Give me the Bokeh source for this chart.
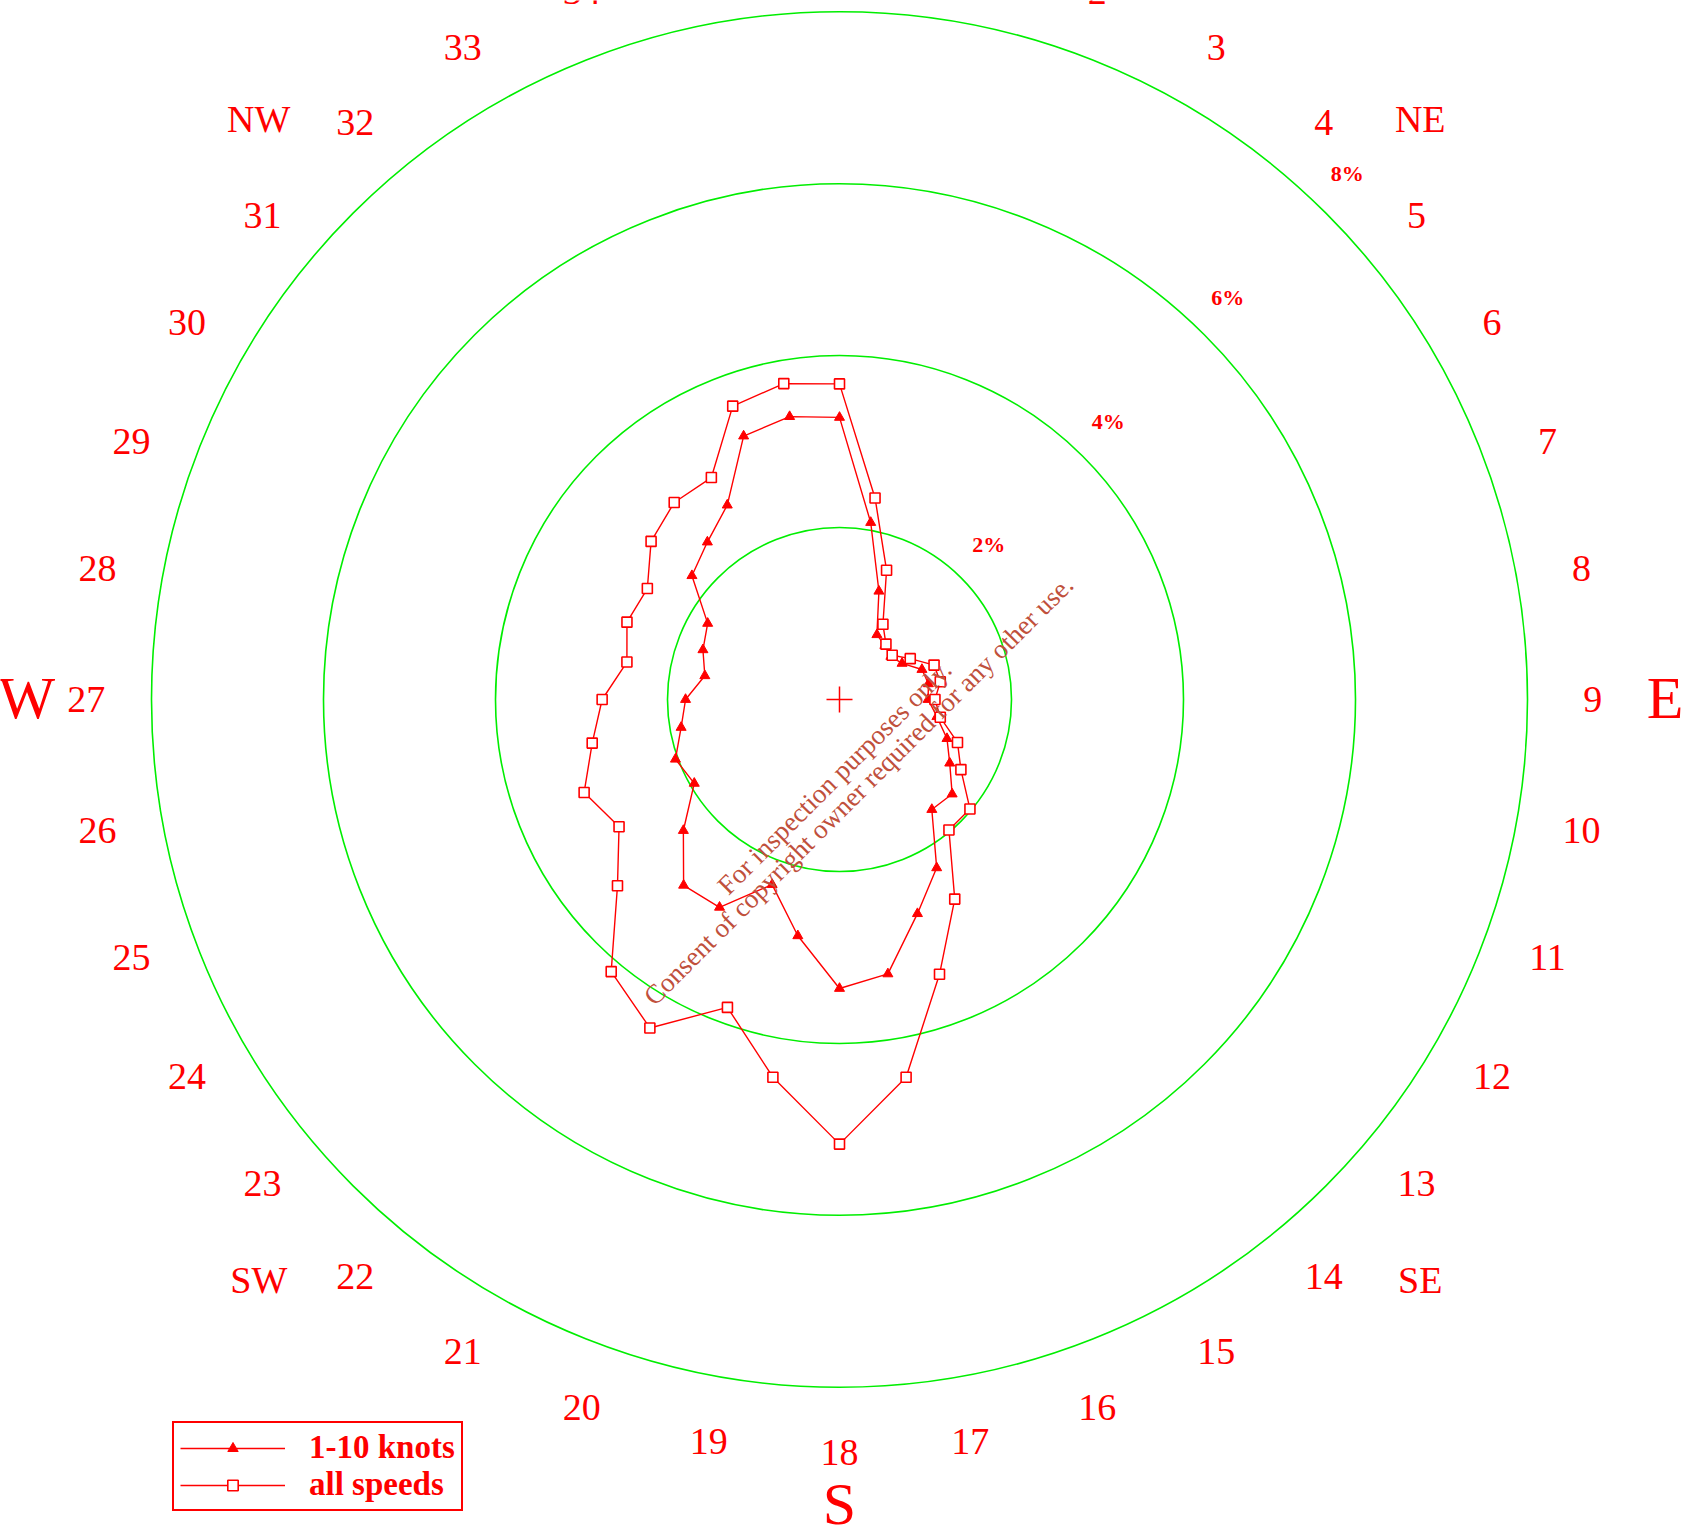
import numpy as np
from bokeh.plotting import figure
from bokeh.models import Range1d, Legend, LegendItem
from bokeh.embed import file_html
from bokeh.resources import INLINE
from bokeh.core.properties import value

# ---------------- data ----------------
directions = list(range(1, 37))          # wind direction sectors (x10 degrees)
knots_1_10 = [2.09, 1.34, 0.87, 0.82, 0.78, 0.84, 1.02, 1.05, 1.03, 1.15, 1.33, 1.48,
              1.71, 1.67, 2.26, 2.65, 3.24, 3.36, 2.79, 2.29, 2.79, 2.82, 2.37, 1.95,
              2.03, 1.87, 1.79, 1.59, 1.69, 1.77, 2.24, 2.39, 2.61, 3.26, 3.34, 3.28]
all_speeds = [2.38, 1.60, 1.01, 0.84, 0.80, 0.95, 1.17, 1.19, 1.11, 1.19, 1.46, 1.63,
              1.98, 1.98, 2.68, 3.40, 4.46, 5.17, 4.46, 3.81, 4.41, 4.13, 3.37, 2.96,
              3.16, 2.92, 2.76, 2.51, 2.63, 2.58, 2.86, 2.99, 2.98, 3.63, 3.73, 3.67]
ring_pcts = [2, 4, 6, 8]
ring_labels = ["2%", "4%", "6%", "8%"]
direction_labels = [str(d) for d in directions]
compass_labels = ["N", "NE", "E", "SE", "S", "SW", "W", "NW"]
compass_bearings = [0, 45, 90, 135, 180, 225, 270, 315]
watermark_lines = ["For inspection purposes only.",
                   "Consent of copyright owner required for any other use."]

# ---------------- layout ----------------
W, H = 1690, 1526
PX = 86.0                 # pixels per 1 %
CX, CY = 839, 699         # centre in canvas pixels
RED = "#ff0000"
GREEN = "#00ee00"
SERIF = "Liberation Serif"
Y_TOP = CY / PX

p = figure(width=W, height=H, output_backend="svg", toolbar_location=None,
           x_range=Range1d(-CX / PX, (W - CX) / PX),
           y_range=Range1d(-(H - CY) / PX, Y_TOP),
           x_axis_location=None, y_axis_location=None, min_border=0)
p.grid.visible = False
p.outline_line_color = None
p.background_fill_color = "white"
p.border_fill_color = "white"


def polar(r, bearing_deg):
    b = np.radians(np.asarray(bearing_deg, dtype=float))
    r = np.asarray(r, dtype=float)
    return r * np.sin(b), r * np.cos(b)


# rings
p.circle(x=[0] * len(ring_pcts), y=[0] * len(ring_pcts), radius=ring_pcts,
         fill_color=None, line_color=GREEN, line_width=1.6)

# ring labels along ~44 deg
rx, ry = polar(np.array(ring_pcts) + 0.5, [44] * len(ring_pcts))
p.text(x=rx, y=ry, text=ring_labels, text_color=RED, text_font=value(SERIF),
       text_font_size="22px", text_font_style="bold",
       text_align="center", text_baseline="middle")

# direction number labels (only those that fall at least partly inside the page)
bearings = np.array(directions) * 10.0
lx, ly = polar([8.76] * len(directions), bearings)
vis = ly < Y_TOP + 0.15
p.text(x=lx[vis], y=ly[vis], text=[t for t, v in zip(direction_labels, vis) if v],
       text_color=RED, text_font=value(SERIF),
       text_font_size="38px", text_align="center", text_baseline="middle")

# compass labels
cardinal_r = {"N": 9.5, "E": 9.6, "S": 9.38, "W": 9.45}
big = [lab for lab in compass_labels if len(lab) == 1]
big_b = [b for lab, b in zip(compass_labels, compass_bearings) if len(lab) == 1]
bx, by = polar([cardinal_r[l] for l in big], big_b)
bvis = by < Y_TOP
p.text(x=bx[bvis], y=by[bvis], text=[t for t, v in zip(big, bvis) if v],
       text_color=RED, text_font=value(SERIF), y_offset=-2,
       text_font_size="60px", text_align="center", text_baseline="middle")
small = [lab for lab in compass_labels if len(lab) == 2]
small_b = [b for lab, b in zip(compass_labels, compass_bearings) if len(lab) == 2]
sx, sy = polar([9.55] * len(small), small_b)
p.text(x=sx, y=sy, text=small, text_color=RED, text_font=value(SERIF),
       text_font_size="38px", text_align="center", text_baseline="middle")

# centre cross
p.scatter(x=[0], y=[0], marker="cross", size=26, line_color=RED, line_width=1.5)

# series
kx, ky = polar(knots_1_10, bearings)
ax, ay = polar(all_speeds, bearings)
l1 = p.line(x=np.append(kx, kx[0]), y=np.append(ky, ky[0]), line_color=RED, line_width=1.4)
s1 = p.scatter(x=kx, y=ky, marker="triangle", size=10, fill_color=RED, line_color=RED)
l2 = p.line(x=np.append(ax, ax[0]), y=np.append(ay, ay[0]), line_color=RED, line_width=1.4)
s2 = p.scatter(x=ax, y=ay, marker="square", size=10, fill_color="white",
               line_color=RED, line_width=1.6)

# watermark
wm_x = [(834 - CX) / PX, (858 - CX) / PX]
wm_y = [-(777 - CY) / PX, -(790 - CY) / PX]
p.text(x=wm_x, y=wm_y, text=watermark_lines, angle=np.pi / 4,
       text_color="#c0503c", text_font=value(SERIF), text_font_size="27px",
       text_align="center", text_baseline="middle")

legend = Legend(items=[LegendItem(label="1-10 knots", renderers=[l1, s1]),
                       LegendItem(label="all speeds", renderers=[l2, s2])],
                location=(172, 15), orientation="vertical",
                glyph_width=105, glyph_height=26, label_height=26,
                label_standoff=24, padding=6, spacing=0, margin=0,
                label_text_font=SERIF, label_text_font_size="33px",
                label_text_font_style="bold", label_text_color=RED,
                border_line_color=RED, border_line_width=2, border_line_alpha=1.0,
                background_fill_color="white", background_fill_alpha=1.0)
p.add_layout(legend, "center")

open("out.html", "w").write(file_html(p, INLINE))
